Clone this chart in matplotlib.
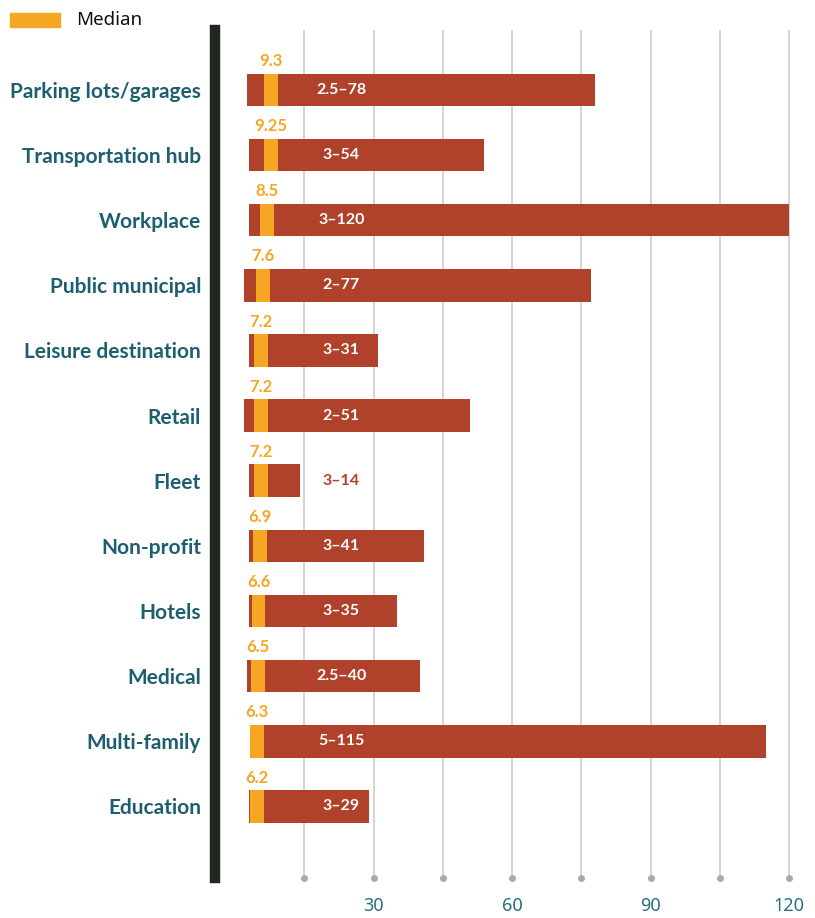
import matplotlib
matplotlib.use("Agg")
import matplotlib.pyplot as plt
from matplotlib.patches import Rectangle

categories = ["Parking lots/garages", "Transportation hub", "Workplace", "Public municipal",
              "Leisure destination", "Retail", "Fleet", "Non-profit", "Hotels", "Medical",
              "Multi-family", "Education"]
mins = [2.5, 3, 3, 2, 3, 2, 3, 3, 3, 2.5, 5, 3]
maxs = [78, 54, 120, 77, 31, 51, 14, 41, 35, 40, 115, 29]
medians = [9.3, 9.25, 8.5, 7.6, 7.2, 7.2, 7.2, 6.9, 6.6, 6.5, 6.3, 6.2]
median_labels = ["9.3", "9.25", "8.5", "7.6", "7.2", "7.2", "7.2", "6.9", "6.6", "6.5", "6.3", "6.2"]
grid_ticks = [15, 30, 45, 60, 75, 90, 105, 120]
tick_labels = {30: "30", 60: "60", 90: "90", 120: "120"}

RED = "#b0412a"
ORANGE = "#f5a623"
TEAL = "#1d5f70"
TICK_TEAL = "#2a6e84"
SPINE = "#22271e"

W, H = 815, 918
fig = plt.figure(figsize=(W / 100, H / 100), dpi=100)
ax_l, ax_r = 215 / W, 815 / W
ax_t, ax_b = 30 / H, 878 / H
ax = fig.add_axes([ax_l, 1 - ax_b, ax_r - ax_l, ax_b - ax_t])

xmin = (215 - 235) / 4.617
xmax = (815 - 235) / 4.617
ax.set_xlim(xmin, xmax)
ax.set_ylim(12.1, -0.92)

for t in grid_ticks:
    ax.axvline(t, color="#c9c9c9", lw=1.1, zorder=0)
    ax.plot([t], [12.1], "o", color="#aaaaaa", ms=4, clip_on=False, zorder=1)

bh = 0.5
MW = 3.0
LABEL_X = 23
for i, cat in enumerate(categories):
    ax.barh(i, maxs[i] - mins[i], left=mins[i], height=bh, color=RED, zorder=2)
    ax.barh(i, MW, left=medians[i] - MW, height=bh, color=ORANGE, zorder=3)
    ax.text(medians[i] - MW / 2, i - bh / 2 - 0.07, median_labels[i], ha="center", va="bottom",
            color=ORANGE, fontsize=12, fontweight="bold", family="Lato", zorder=4)
    inside = maxs[i] > LABEL_X + 5
    ax.text(LABEL_X, i, f"{mins[i]:g}\u2013{maxs[i]:g}", ha="center", va="center",
            color="white" if inside else RED, fontsize=11.5, fontweight="bold",
            family="Lato", zorder=4)

ax.set_yticks(range(len(categories)))
ax.set_yticklabels(categories, fontsize=15, fontweight="bold", color=TEAL, family="Lato")
ax.tick_params(axis="y", length=0, pad=10)
ax.set_xticks(list(tick_labels.keys()))
ax.set_xticklabels(list(tick_labels.values()), fontsize=13, color=TICK_TEAL, family="Noto Sans")
ax.tick_params(axis="x", length=0, pad=14)

for s in ["top", "right", "bottom"]:
    ax.spines[s].set_visible(False)
ax.spines["left"].set_color(SPINE)
ax.spines["left"].set_linewidth(7.5)

# legend
fig.patches.append(Rectangle((10 / W, 1 - 27 / H), 50 / W, 14 / H, transform=fig.transFigure,
                             color=ORANGE))
fig.text(76 / W, 1 - 20 / H, "Median", ha="left", va="center", fontsize=13.5,
         family="Noto Sans", color="#111111")

fig.savefig("out.png", dpi=100)
